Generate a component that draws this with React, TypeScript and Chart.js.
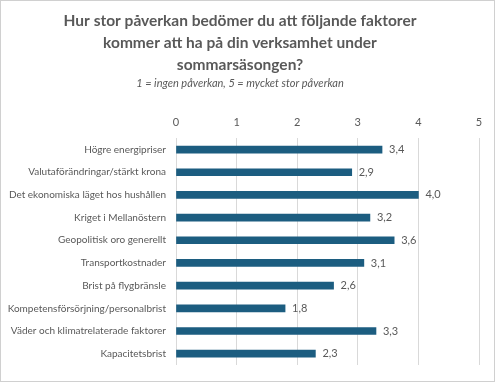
import React, { useEffect, useRef } from "react";
import { Chart, registerables } from "chart.js";

Chart.register(...registerables);

const categories = [
  "Högre energipriser",
  "Valutaförändringar/stärkt krona",
  "Det ekonomiska läget hos hushållen",
  "Kriget i Mellanöstern",
  "Geopolitisk oro generellt",
  "Transportkostnader",
  "Brist på flygbränsle",
  "Kompetensförsörjning/personalbrist",
  "Väder och klimatrelaterade faktorer",
  "Kapacitetsbrist",
];

const values = [3.4, 2.9, 4.0, 3.2, 3.6, 3.1, 2.6, 1.8, 3.3, 2.3];

const titleLines = [
  "Hur stor påverkan bedömer du att följande faktorer",
  "kommer att ha på din verksamhet under",
  "sommarsäsongen?",
];
const subtitleText = "1 = ingen påverkan, 5 = mycket stor påverkan";

const FONT = "Lato, 'Open Sans', sans-serif";
const TEXT = "#595959";
const BAR = "#1c5d80";

// Writes each bar's value (decimal comma) just past its end.
const valueLabels = {
  id: "valueLabels",
  afterDatasetsDraw(chart: any) {
    const ctx = chart.ctx;
    const meta = chart.getDatasetMeta(0);
    ctx.save();
    ctx.font = `11px ${FONT}`;
    ctx.fillStyle = TEXT;
    ctx.textAlign = "left";
    ctx.textBaseline = "middle";
    meta.data.forEach((bar: any, i: number) => {
      const v = chart.data.datasets[0].data[i] as number;
      ctx.fillText(v.toFixed(1).replace(".", ","), bar.x + 7, bar.y);
    });
    ctx.restore();
  },
};

export default function App() {
  const canvasRef = useRef<HTMLCanvasElement | null>(null);

  useEffect(() => {
    if (!canvasRef.current) return;
    const chart = new Chart(canvasRef.current, {
      type: "bar",
      data: {
        labels: categories,
        datasets: [
          {
            data: values,
            backgroundColor: BAR,
            barThickness: 7,
          },
        ],
      },
      options: {
        indexAxis: "y",
        animation: false,
        responsive: false,
        maintainAspectRatio: false,
        layout: { padding: { left: 0, right: 15, bottom: 9, top: 0 } },
        plugins: {
          legend: { display: false },
          tooltip: { enabled: false },
          title: {
            display: true,
            text: titleLines,
            color: TEXT,
            font: { family: FONT, size: 15.5, weight: "bold", lineHeight: 1.42 },
            padding: { top: 9, bottom: 0 },
          },
          subtitle: {
            display: true,
            text: subtitleText,
            color: TEXT,
            font: { family: FONT, size: 11, style: "italic" },
            padding: { top: 1, bottom: 0 },
          },
        },
        scales: {
          x: {
            position: "top",
            min: 0,
            max: 5,
            ticks: {
              stepSize: 1,
              color: TEXT,
              font: { family: FONT, size: 11 },
              padding: 9,
            },
            grid: { color: "#d9d9d9", drawTicks: false },
            border: { display: false },
            afterFit(scale: any) {
              scale.height = 48;
            },
          },
          y: {
            ticks: {
              color: TEXT,
              font: { family: FONT, size: 10 },
              padding: 10,
            },
            grid: { display: false, drawTicks: false },
            border: { display: false },
            afterFit(scale: any) {
              scale.width = 175;
            },
          },
        },
      },
      plugins: [valueLabels],
    });
    return () => chart.destroy();
  }, []);

  return (
    <div
      style={{
        position: "fixed",
        left: 0,
        top: 0,
        width: 495,
        height: 382,
        boxSizing: "border-box",
        border: "1px solid #d0d0d0",
        background: "#ffffff",
      }}
    >
      <canvas ref={canvasRef} width={493} height={380} style={{ display: "block" }} />
    </div>
  );
}
